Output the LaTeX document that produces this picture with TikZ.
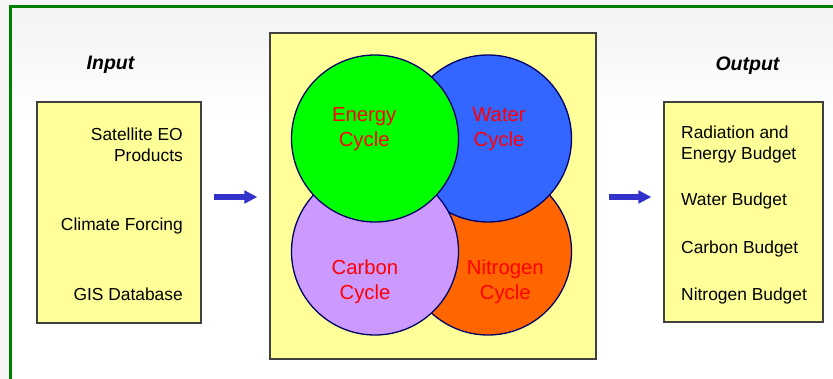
\documentclass[tikz,border=0pt]{standalone}
\usepackage{fontspec}
\setmainfont{Liberation Sans}
\usetikzlibrary{arrows.meta}
\definecolor{frameGreen}{RGB}{0,128,0}
\definecolor{boxYellow}{RGB}{255,255,153}
\definecolor{boxLine}{RGB}{64,64,64}
\definecolor{cEnergy}{RGB}{0,255,0}
\definecolor{cWater}{RGB}{51,102,255}
\definecolor{cCarbon}{RGB}{204,153,255}
\definecolor{cNitrogen}{RGB}{255,102,0}
\definecolor{cLine}{RGB}{0,0,102}
\definecolor{cText}{RGB}{255,0,0}
\definecolor{arrowBlue}{RGB}{51,51,204}
\tikzset{
  yellowbox/.style={draw=boxLine, line width=1.2pt, fill=boxYellow, rectangle, inner sep=0pt},
  cyclecircle/.style={circle, draw=cLine, line width=1.3pt, minimum size=167pt, inner sep=0pt},
  boxtext/.style={font=\fontsize{17.4}{21}\selectfont, inner sep=0pt, text=black},
  cycletext/.style={font=\fontsize{20.3}{25}\selectfont, inner sep=0pt, text=cText, anchor=base},
  headtext/.style={font=\fontsize{19.5}{23}\selectfont\bfseries\itshape, inner sep=0pt, anchor=base},
  bigarrow/.style={draw=arrowBlue, line width=5.5pt, -{Triangle[length=13pt,width=12.5pt]}, shorten <=12pt, shorten >=12pt}
}
\begin{document}
\begin{tikzpicture}[x=1pt,y=-1pt]
\useasboundingbox (0,0) rectangle (833,379);
% background
\fill[gray!7] (0,0) rectangle (833,379);
\fill[white] (11,7) rectangle (833,379);
\foreach \i in {0,...,11} \fill[gray, opacity=0.009] (11,7) rectangle (833,15+\i*9);
% green frame
\draw[frameGreen, line width=3.3pt] (10.3,379) -- (10.3,6.3) -- (833,6.3);

% headings
\node[headtext] (inhead) at (110.5,70) {Input};
\node[headtext] (outhead) at (747.5,70.5) {Output};

% input box
\node[yellowbox, minimum width=164pt, minimum height=221pt] (inbox) at (119,212.5) {};
\node[boxtext, anchor=base east] (in1) at (183,140.3) {Satellite EO};
\node[boxtext, anchor=base east] (in2) at (183,161.3) {Products};
\node[boxtext, anchor=base east] (in3) at (183,231) {Climate Forcing};
\node[boxtext, anchor=base east] (in4) at (183,300.5) {GIS Database};

% center box
\node[yellowbox, minimum width=326pt, minimum height=326pt] (cbox) at (433,196) {};
\node[cyclecircle, fill=cNitrogen] (nitro) at (488,251.5) {};
\node[cyclecircle, fill=cWater] (water) at (488,138.5) {};
\node[cyclecircle, fill=cCarbon] (carbon) at (375,251.5) {};
\node[cyclecircle, fill=cEnergy] (energy) at (375,138.5) {};
\node[cycletext] (e1) at (364.2,121.7) {Energy};
\node[cycletext] (e2) at (364.2,146.7) {Cycle};
\node[cycletext] (w1) at (499,121.7) {Water};
\node[cycletext] (w2) at (499,146.7) {Cycle};
\node[cycletext] (c1) at (365,275) {Carbon};
\node[cycletext] (c2) at (365,300) {Cycle};
\node[cycletext] (n1) at (505.3,275) {Nitrogen};
\node[cycletext] (n2) at (505.3,300) {Cycle};

% output box
\node[yellowbox, minimum width=159pt, minimum height=220pt] (outbox) at (743.5,212) {};
\node[boxtext, anchor=base west] (o1) at (681,138.6) {Radiation and};
\node[boxtext, anchor=base west] (o2) at (681,159.6) {Energy Budget};
\node[boxtext, anchor=base west] (o3) at (681,206) {Water Budget};
\node[boxtext, anchor=base west] (o4) at (681,254) {Carbon Budget};
\node[boxtext, anchor=base west] (o5) at (681,300.5) {Nitrogen Budget};

% arrows
\draw[bigarrow] (inbox.east |- 0,197) -- (cbox.west |- 0,197);
\draw[bigarrow] (cbox.east |- 0,197) -- (outbox.west |- 0,197);
\end{tikzpicture}
\end{document}
